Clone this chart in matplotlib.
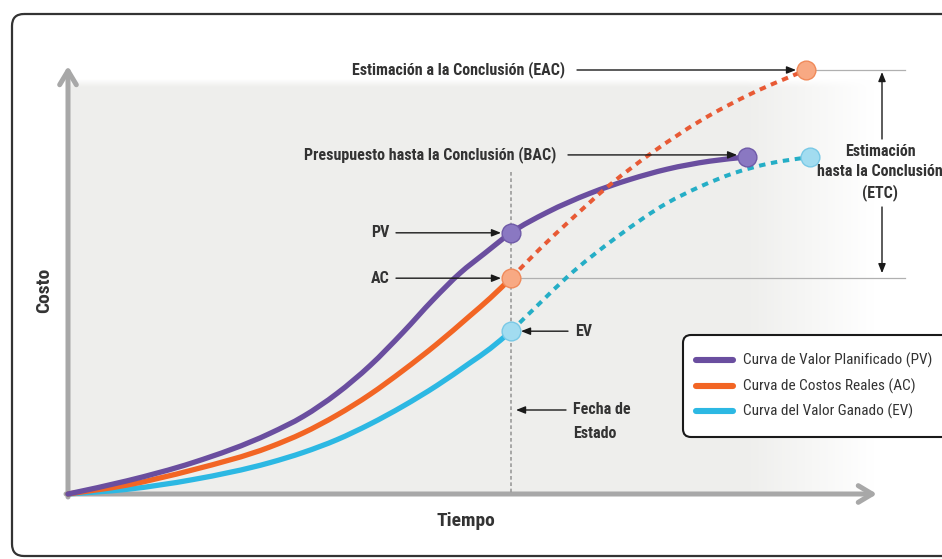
import numpy as np
import matplotlib
matplotlib.use("Agg")
import matplotlib.pyplot as plt
from matplotlib import font_manager as fm, transforms as mtrans
from matplotlib.patches import FancyBboxPatch, PathPatch
from matplotlib.path import Path

# ---------------- data (time units, cost units; EAC = 100) ----------------
pv_time = [0.0, 1.33, 2.82, 4.56, 5.31, 6.07, 6.82, 7.56, 8.24, 8.85, 9.41, 10.0,
           10.81, 11.78, 12.69, 13.52, 14.49, 15.33]
pv_cost = [0.0, 3.1, 7.4, 14.3, 18.3, 23.7, 30.3, 38.1, 45.8, 52.1, 56.8, 61.6,
           66.4, 70.9, 74.2, 76.6, 78.5, 79.5]

ac_time = [0.0, 1.33, 2.82, 4.56, 5.31, 6.07, 6.82, 7.56, 8.33, 9.07, 9.53, 10.0]
ac_cost = [0.0, 2.1, 5.7, 11.1, 14.4, 18.6, 23.5, 29.1, 35.4, 42.0, 46.2, 50.9]

eac_time = [10.0, 10.65, 11.27, 12.23, 13.21, 14.27, 15.46, 16.66]
eac_cost = [50.9, 57.8, 63.9, 72.9, 80.7, 88.0, 94.6, 100.0]

ev_time = [0.0, 1.33, 2.82, 4.56, 5.31, 6.07, 6.82, 7.56, 8.33, 9.07, 9.53, 10.0]
ev_cost = [0.0, 1.1, 3.4, 7.4, 9.8, 12.8, 16.5, 20.7, 25.6, 30.9, 34.3, 38.4]

evf_time = [10.0, 10.65, 11.27, 12.39, 13.52, 14.27, 15.01, 15.85, 16.75]
evf_cost = [38.4, 45.0, 51.2, 60.6, 68.6, 72.5, 75.6, 78.0, 79.5]

status_time = 10.0

legend_labels = ["Curva de Valor Planificado (PV)", "Curva de Costos Reales (AC)", "Curva del Valor Ganado (EV)"]
x_label = "Tiempo"
y_label = "Costo"
lbl_eac = "Estimación a la Conclusión (EAC)"
lbl_bac = "Presupuesto hasta la Conclusión (BAC)"
lbl_pv, lbl_ac, lbl_ev = "PV", "AC", "EV"
lbl_status = ["Fecha de", "Estado"]
lbl_etc = ["Estimación", "hasta la Conclusión", "(ETC)"]

# ---------------- styling ----------------
C_PV, C_AC, C_EV = "#6a4e9f", "#f26524", "#2cb8e3"
C_ACF, C_EVF = "#e85a35", "#25aec6"
F_PV, F_AC, F_EV = "#8a78c2", "#f8a983", "#a2dcf0"
TXT = "#333333"

names = {f.name for f in fm.fontManager.ttflist}
cond = next((n for n in ["Liberation Sans Narrow", "Roboto Condensed", "DejaVu Sans Condensed",
                         "Open Sans Condensed", "Liberation Sans"] if n in names), "DejaVu Sans")
fb = fm.FontProperties(family=cond, weight="bold", size=11.5)
fb_big = fm.FontProperties(family=cond, weight="bold", size=14)
fr = fm.FontProperties(family=cond, weight="normal", size=11)

W, H = 942, 559
X0, Y0, SX, SY = 68.0, 494.0, 44.3, 4.24   # pixel of origin, px per unit

fig = plt.figure(figsize=(W / 100, H / 100), dpi=100)
fig.patch.set_facecolor("white")
ax = fig.add_axes([0, 0, 1, 1])
ax.axis("off")
ax.set_xlim(-X0 / SX, (W - X0) / SX)
ax.set_ylim((Y0 - H) / SY, Y0 / SY)

P = mtrans.Affine2D().scale(1 / W, -1 / H).translate(0, 1) + fig.transFigure


def to_px(t, c):
    return X0 + SX * t, Y0 - SY * c


def smooth_curve(x, y, **kw):
    """Draw a smooth curve through the given points (cubic Hermite segments rendered as Bezier)."""
    x = np.asarray(x, float)
    y = np.asarray(y, float)
    h = np.diff(x)
    d = np.diff(y) / h
    n = len(x)
    m = np.empty(n)
    m[0], m[-1] = d[0], d[-1]
    for i in range(1, n - 1):
        m[i] = (d[i - 1] * h[i] + d[i] * h[i - 1]) / (h[i - 1] + h[i])
    verts = [(x[0], y[0])]
    codes = [Path.MOVETO]
    for i in range(n - 1):
        verts += [(x[i] + h[i] / 3, y[i] + m[i] * h[i] / 3),
                  (x[i + 1] - h[i] / 3, y[i + 1] - m[i + 1] * h[i] / 3),
                  (x[i + 1], y[i + 1])]
        codes += [Path.CURVE4] * 3
    patch = PathPatch(Path(verts, codes), fill=False, **kw)
    ax.add_patch(patch)
    return patch


# background gradient
xs = np.linspace(68, 880, 400)
ys = np.linspace(78, 494, 200)
XX, YY = np.meshgrid(xs, ys)
alpha = np.clip((875 - XX) / 130, 0, 1) * np.clip((YY - 78) / 8, 0, 1)
img = np.zeros(XX.shape + (4,))
img[..., 0] = 0.937
img[..., 1] = 0.937
img[..., 2] = 0.929
img[..., 3] = alpha
ax.imshow(img, extent=(68, 880, 494, 78), transform=P, origin="upper", aspect="auto",
          interpolation="bilinear", zorder=0)

# outer frame
frame = FancyBboxPatch((12, 14), 1000, 542, boxstyle="round,pad=0,rounding_size=12",
                       transform=P, fill=False, ec="#333333", lw=1.6, clip_on=False, zorder=1)
ax.add_patch(frame)

# axes arrows
arr_kw = dict(arrowstyle="->,head_length=1.0,head_width=0.6", lw=3.6, color="#a8a8a8",
              shrinkA=0, shrinkB=0)
ax.annotate("", xy=(68, 66), xytext=(68, 497), xycoords=P, textcoords=P, arrowprops=arr_kw, zorder=2)
ax.annotate("", xy=(877, 494), xytext=(66, 494), xycoords=P, textcoords=P, arrowprops=arr_kw, zorder=2)

# status date line
ax.plot([status_time, status_time], [(Y0 - 172) / SY, 0], ls=(0, (2.2, 1.6)), color="#9a9a9a", lw=1.2, zorder=2)

# reference lines at EAC and AC levels
ax.plot([eac_time[-1], (905 - X0) / SX], [eac_cost[-1]] * 2, color="#b0b0b0", lw=0.9, zorder=2)
ax.plot([ac_time[-1], (905 - X0) / SX], [ac_cost[-1]] * 2, color="#b0b0b0", lw=0.9, zorder=2)

# curves
smooth_curve(ev_time, ev_cost, ec=C_EV, lw=3.8, capstyle="round", zorder=3)
smooth_curve(ac_time, ac_cost, ec=C_AC, lw=3.8, capstyle="round", zorder=3)
smooth_curve(pv_time, pv_cost, ec=C_PV, lw=3.8, capstyle="round", zorder=3)
smooth_curve(eac_time, eac_cost, ec=C_ACF, lw=2.9, ls=(0, (1.6, 1.4)), zorder=3)
smooth_curve(evf_time, evf_cost, ec=C_EVF, lw=2.9, ls=(0, (1.6, 1.4)), zorder=3)

# markers
mk = dict(marker="o", ms=13.5, ls="none", mew=1.0, zorder=5)
i_pv = pv_time.index(status_time)
ax.plot([pv_time[-1]], [pv_cost[-1]], mfc=F_PV, mec="#6f5aa8", **mk)
ax.plot([status_time], [pv_cost[i_pv]], mfc=F_PV, mec="#6f5aa8", **mk)
ax.plot([ac_time[-1]], [ac_cost[-1]], mfc=F_AC, mec="#f08a5a", **mk)
ax.plot([eac_time[-1]], [eac_cost[-1]], mfc=F_AC, mec="#f08a5a", **mk)
ax.plot([ev_time[-1]], [ev_cost[-1]], mfc=F_EV, mec="#79c9e6", **mk)
ax.plot([evf_time[-1]], [evf_cost[-1]], mfc=F_EV, mec="#79c9e6", **mk)

# annotations
ak = dict(arrowstyle="-|>,head_length=0.55,head_width=0.22", lw=1.0, color="#1a1a1a",
          shrinkA=0, shrinkB=0)


def arrow(x1, y1, x2, y2):
    ax.annotate("", xy=(x2, y2), xytext=(x1, y1), xycoords=P, textcoords=P, arrowprops=ak, zorder=4)


ex, ey = to_px(eac_time[-1], eac_cost[-1])
ax.text(565, ey, lbl_eac, transform=P, ha="right", va="center", fontproperties=fb, color=TXT)
arrow(577, ey, ex - 10, ey)

bx, by = to_px(pv_time[-1], pv_cost[-1])
ax.text(556, by - 2, lbl_bac, transform=P, ha="right", va="center", fontproperties=fb, color=TXT)
arrow(568, by - 2, bx - 10, by - 2)

px_, py_ = to_px(status_time, pv_cost[i_pv])
ax.text(390, py_, lbl_pv, transform=P, ha="right", va="center", fontproperties=fb, color=TXT)
arrow(396, py_, px_ - 10, py_)

qx, qy = to_px(ac_time[-1], ac_cost[-1])
ax.text(390, qy, lbl_ac, transform=P, ha="right", va="center", fontproperties=fb, color=TXT)
arrow(396, qy, qx - 10, qy)

vx, vy = to_px(ev_time[-1], ev_cost[-1])
ax.text(575, vy, lbl_ev, transform=P, ha="left", va="center", fontproperties=fb, color=TXT)
arrow(568, vy, vx + 10, vy)

sx_, _ = to_px(status_time, 0)
ax.text(573, 410, lbl_status[0], transform=P, ha="left", va="center", fontproperties=fb, color=TXT)
ax.text(573, 433, lbl_status[1], transform=P, ha="left", va="center", fontproperties=fb, color=TXT)
arrow(566, 410, sx_ + 5, 410)

for yy, s in zip([152, 172, 193], lbl_etc):
    ax.text(880, yy, s, transform=P, ha="center", va="center", fontproperties=fb, color=TXT)
arrow(882, 139, 882, ey + 2)
arrow(882, 207, 882, qy - 5)

ax.text(44, 290, y_label, transform=P, ha="center", va="center", rotation=90, fontproperties=fb_big, color=TXT)
ax.text(466, 521, x_label, transform=P, ha="center", va="center", fontproperties=fb_big, color=TXT)

# legend (drawn as a boxed key)
lbox = FancyBboxPatch((683, 335), 300, 102, boxstyle="round,pad=0,rounding_size=8",
                      transform=P, fc="white", ec="#1a1a1a", lw=1.5, clip_on=False, zorder=6)
ax.add_patch(lbox)
for yy, c, s in zip([360, 386, 411], (C_PV, C_AC, C_EV), legend_labels):
    ax.plot([696, 733], [yy, yy], transform=P, color=c, lw=4.4, solid_capstyle="round", zorder=7)
    ax.text(743, yy, s, transform=P, ha="left", va="center", fontproperties=fr, color=TXT, zorder=7)

fig.savefig("out.png", dpi=100)
